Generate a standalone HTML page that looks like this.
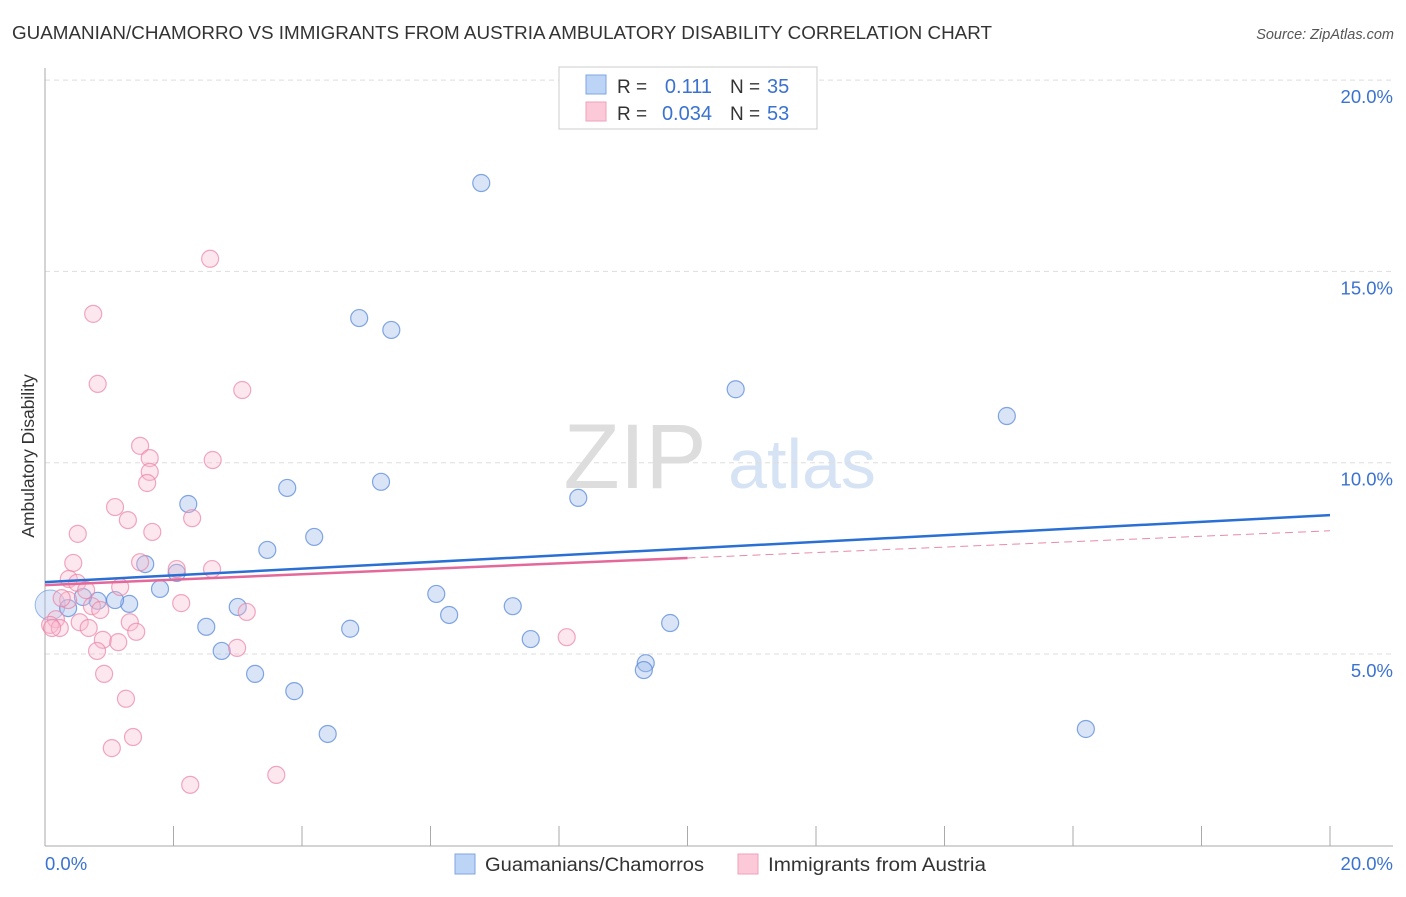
<!DOCTYPE html>
<html><head><meta charset="utf-8"><style>
body{margin:0;background:#fff;font-family:"Liberation Sans",sans-serif;}
svg text{font-family:"Liberation Sans",sans-serif;}
</style></head><body>
<svg id="chart" width="1406" height="892" xmlns="http://www.w3.org/2000/svg">
<text x="12" y="39" font-size="18" fill="#333" textLength="980" lengthAdjust="spacingAndGlyphs">GUAMANIAN/CHAMORRO VS IMMIGRANTS FROM AUSTRIA AMBULATORY DISABILITY CORRELATION CHART</text>
<text x="1394" y="39" font-size="14.5" fill="#555" text-anchor="end" font-style="italic">Source: ZipAtlas.com</text>
<g>
<text x="635" y="488" font-size="92" fill="#ddd" text-anchor="middle" font-family="Liberation Serif">ZIP</text>
<text x="802" y="488" font-size="70" fill="#d6e3f5" text-anchor="middle">atlas</text>
</g>
<g id="grid"></g>
<g id="axes"></g>
<g id="marks"></g>
<text transform="translate(34,456) rotate(-90)" font-size="17.5" fill="#333" text-anchor="middle">Ambulatory Disability</text>
<g>
<rect x="559" y="67" width="258" height="62" fill="#fff" stroke="#ccc"/>
<rect x="586" y="75" width="20" height="19" fill="#bcd4f5" stroke="#7fa6e0"/>
<rect x="586" y="102" width="20" height="19" fill="#fcc9d8" stroke="#eea2ba"/>
<text x="617" y="93" font-size="19" fill="#333">R =</text>
<text x="712" y="93" font-size="20" fill="#3a72d0" text-anchor="end">0.111</text>
<text x="730" y="93" font-size="19" fill="#333">N =</text>
<text x="767" y="93" font-size="20" fill="#3a72d0">35</text>
<text x="617" y="120" font-size="19" fill="#333">R =</text>
<text x="712" y="120" font-size="20" fill="#3a72d0" text-anchor="end">0.034</text>
<text x="730" y="120" font-size="19" fill="#333">N =</text>
<text x="767" y="120" font-size="20" fill="#3a72d0">53</text>
</g>
<g>
<rect x="455" y="854" width="20" height="20" fill="#bcd4f5" stroke="#7fa6e0"/>
<text x="485" y="871" font-size="19" fill="#333" textLength="219" lengthAdjust="spacingAndGlyphs">Guamanians/Chamorros</text>
<rect x="738" y="854" width="20" height="20" fill="#fcc9d8" stroke="#eea2ba"/>
<text x="768" y="871" font-size="19" fill="#333" textLength="218" lengthAdjust="spacingAndGlyphs">Immigrants from Austria</text>
</g>
</svg>
<script>
const yTicks=[5,10,15,20];
const yTickLabels=["5.0%","10.0%","15.0%","20.0%"];
const xTickLabels=["0.0%","20.0%"];
const blueX=[6.79,4.89,5.39,10.75,14.97,2.23,3.77,5.23,8.30,4.19,3.46,1.56,2.05,1.79,1.31,1.09,0.82,0.36,3.00,6.09,6.29,7.28,2.51,4.75,7.56,9.73,2.75,9.35,9.32,3.27,3.88,4.40,16.20,0.59];
const blueY=[17.31,13.78,13.47,11.92,11.22,8.92,9.34,9.50,9.08,8.06,7.72,7.35,7.12,6.70,6.31,6.41,6.39,6.20,6.23,6.57,6.02,6.25,5.71,5.66,5.39,5.81,5.08,4.76,4.58,4.48,4.03,2.91,3.04,6.49];
const pinkX=[2.57,0.75,0.82,3.07,1.48,1.63,2.61,1.63,1.59,1.09,1.29,2.29,0.51,1.67,0.44,1.48,2.05,2.60,0.37,0.50,1.17,0.64,0.36,2.12,3.14,0.73,0.17,0.54,1.32,0.08,0.23,0.68,1.42,0.90,1.14,0.81,2.99,8.12,0.92,1.26,1.37,1.04,3.60,2.26,0.26,0.11,0.86];
const pinkY=[15.33,13.89,12.06,11.90,10.44,10.12,10.07,9.76,9.47,8.84,8.50,8.55,8.14,8.19,7.38,7.40,7.22,7.22,6.96,6.86,6.75,6.67,6.41,6.33,6.10,6.25,5.91,5.83,5.83,5.76,5.68,5.68,5.58,5.37,5.31,5.08,5.16,5.44,4.48,3.83,2.83,2.54,1.84,1.58,6.46,5.68,6.15];
const blueTrend=[6.88,8.63];
const pinkTrend=[6.80,8.22];
const pinkSolidEnd=10;
const NS="http://www.w3.org/2000/svg";
const X0=45,X1=1330,YB=845.3,YS=38.26;
const sx=v=>X0+(X1-X0)*v/20, sy=v=>YB-v*YS;
function mk(t,a,p){const e=document.createElementNS(NS,t);for(const k in a)e.setAttribute(k,a[k]);p.appendChild(e);return e;}
const grid=document.getElementById('grid'),axes=document.getElementById('axes'),marks=document.getElementById('marks');
yTicks.forEach((v,i)=>{
 const l=mk('line',{x1:X0,x2:1393,y1:sy(v),y2:sy(v),stroke:'#ddd','stroke-dasharray':'5,4'},grid);
 
 
 const t=mk('text',{x:1393,y:sy(v)+23,'font-size':18.5,fill:'#3a72d0','text-anchor':'end'},axes);
 t.textContent=yTickLabels[i];
 
 
});
const ya=mk('line',{x1:X0,x2:X0,y1:68,y2:846,stroke:'#aaa'},axes);


const xa=mk('line',{x1:X0,x2:1393,y1:846,y2:846,stroke:'#aaa'},axes);


for(let i=1;i<=10;i++){const v=i*2;const t=mk('line',{x1:sx(v),x2:sx(v),y1:826,y2:846,stroke:'#aaa'},axes);
 
 }
[[0,'start',45],[20,'end',1393]].forEach((d,i)=>{const t=mk('text',{x:d[2],y:870,'font-size':18.5,fill:'#3a72d0','text-anchor':d[1]},axes);t.textContent=xTickLabels[i];
 
 });
const big=mk('circle',{cx:sx(0.08),cy:sy(6.28),r:15,fill:'rgba(160,190,235,0.35)',stroke:'rgba(90,140,220,0.6)'},marks);


blueX.forEach((v,i)=>{const c=mk('circle',{cx:sx(v),cy:sy(blueY[i]),r:8.5,fill:'rgba(160,190,235,0.4)',stroke:'rgba(80,130,215,0.7)','stroke-width':1.2},marks);
 
 });
pinkX.forEach((v,i)=>{const c=mk('circle',{cx:sx(v),cy:sy(pinkY[i]),r:8.5,fill:'rgba(250,185,205,0.35)',stroke:'rgba(235,130,165,0.7)','stroke-width':1.2},marks);
 
 });
const pv=x=>pinkTrend[0]+(pinkTrend[1]-pinkTrend[0])*x/20;
const pd=mk('line',{x1:sx(pinkSolidEnd),y1:sy(pv(pinkSolidEnd)),x2:sx(20),y2:sy(pinkTrend[1]),stroke:'#e98aa8','stroke-width':1,'stroke-dasharray':'8,5'},marks);


const ps=mk('line',{x1:sx(0),y1:sy(pinkTrend[0]),x2:sx(pinkSolidEnd),y2:sy(pv(pinkSolidEnd)),stroke:'#e4689a','stroke-width':2.5},marks);


const bl=mk('line',{x1:sx(0),y1:sy(blueTrend[0]),x2:sx(20),y2:sy(blueTrend[1]),stroke:'#2a6fd4','stroke-width':2.5},marks);


</script>
</body></html>
